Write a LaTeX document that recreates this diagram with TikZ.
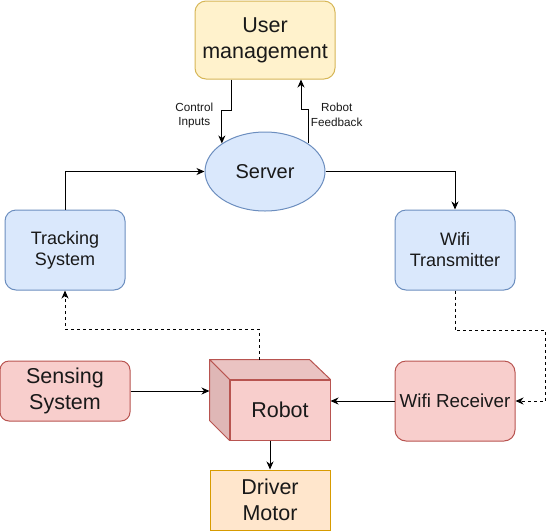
\documentclass[tikz,border=0pt]{standalone}
\usepackage{fontspec}
\setmainfont{Liberation Sans}
\usetikzlibrary{arrows.meta,positioning,shapes.geometric}
\definecolor{blufill}{HTML}{DAE8FC}
\definecolor{bludraw}{HTML}{6C8EBF}
\definecolor{yelfill}{HTML}{FFF2CC}
\definecolor{yeldraw}{HTML}{D6B656}
\definecolor{redfill}{HTML}{F8CECC}
\definecolor{reddraw}{HTML}{B85450}
\definecolor{redtop}{HTML}{EAC3C2}
\definecolor{redside}{HTML}{DFB7B6}
\definecolor{orgfill}{HTML}{FFE6CC}
\definecolor{orgdraw}{HTML}{D79B00}

\begin{document}
\begin{tikzpicture}[
  x=1pt, y=1pt,
  block/.style={draw, line width=1pt, rounded corners=11pt, align=center,
    text=black!90, inner sep=2pt},
  bigtext/.style={font=\fontsize{21.5}{26}\selectfont},
  midtext/.style={font=\fontsize{18}{21}\selectfont},
  lbl/.style={font=\fontsize{11.7}{14.5}\selectfont, align=center, text=black!90},
  flow/.style={-{Stealth[length=8pt,width=7pt,inset=2.5pt]}, line width=1pt},
  dflow/.style={flow, dash pattern=on 3pt off 3pt},
]
  \useasboundingbox (0,0) rectangle (554,-531);
  \node[block, bigtext, fill=yelfill, draw=yeldraw, minimum width=140pt,
    minimum height=78pt] (user) at (265,-40) {User\\management};
  \node[block, ellipse, font=\fontsize{20}{24}\selectfont, fill=blufill,
    draw=bludraw, minimum width=120pt, minimum height=79pt,
    below=52pt of user] (server) {Server};
  \node[block, midtext, fill=blufill, draw=bludraw, minimum width=120pt,
    minimum height=80pt] (tracking) at (65,-250) {Tracking\\System};
  \node[block, midtext, fill=blufill, draw=bludraw, minimum width=120pt,
    minimum height=80pt] (wifitx) at (455,-250) {Wifi\\Transmitter};
  \node[block, bigtext, fill=redfill, draw=reddraw, minimum width=130pt,
    minimum height=60pt, rounded corners=9pt,
    below=70pt of tracking] (sensing) {Sensing\\System};
  \node[block, font=\fontsize{18.8}{22}\selectfont, fill=redfill, draw=reddraw,
    minimum width=120pt, minimum height=80pt, inner sep=0pt,
    below=70pt of wifitx] (wifirx) {Wifi Receiver};
  \node[block, bigtext, fill=redfill, draw=reddraw, rounded corners=0pt,
    minimum width=100pt, minimum height=60pt] (robot) at (280,-410) {Robot};
  \coordinate (robotback) at ([shift={(-20pt,20pt)}]robot.north west);
  \filldraw[fill=redtop, draw=reddraw, line width=1pt, line join=round]
    (robotback) -- ++(100pt,0) -- (robot.north east) -- (robot.north west) -- cycle;
  \filldraw[fill=redside, draw=reddraw, line width=1pt, line join=round]
    (robotback) -- (robot.north west) -- (robot.south west) -- ++(-20pt,20pt) -- cycle;
  \node[block, bigtext, fill=orgfill, draw=orgdraw, rounded corners=0pt,
    minimum width=120pt, minimum height=60pt] (motor) at (270,-500) {Driver\\Motor};

  \draw[flow] ([xshift=-34pt]user.south) -- ++(0,-31)
    node[lbl, anchor=east, xshift=-14pt, yshift=-5pt] {Control\\Inputs}
    -| (server.147);
  \draw[flow] (server.33) -- ++(0,33.5)
    node[lbl, anchor=west, xshift=-1pt, yshift=-5pt] {Robot\\Feedback}
    -| ([xshift=36pt]user.south);
  \draw[flow] (tracking.north) |- (server.west);
  \draw[flow] (server.east) -| (wifitx.north);
  \draw[dflow] (wifitx.south) -- ++(0,-40) -| ([xshift=30pt]wifirx.east)
    -- (wifirx.east);
  \draw[flow] (wifirx.west) -- (wifirx.west -| robot.east);
  \draw[flow] (sensing.east) -- (sensing.east -| robotback);
  \draw[dflow] ([xshift=50pt]robotback) -- ++(0,30) -| (tracking.south);
  \draw[flow] (robot.south -| motor.north) -- (motor.north);
\end{tikzpicture}
\end{document}
